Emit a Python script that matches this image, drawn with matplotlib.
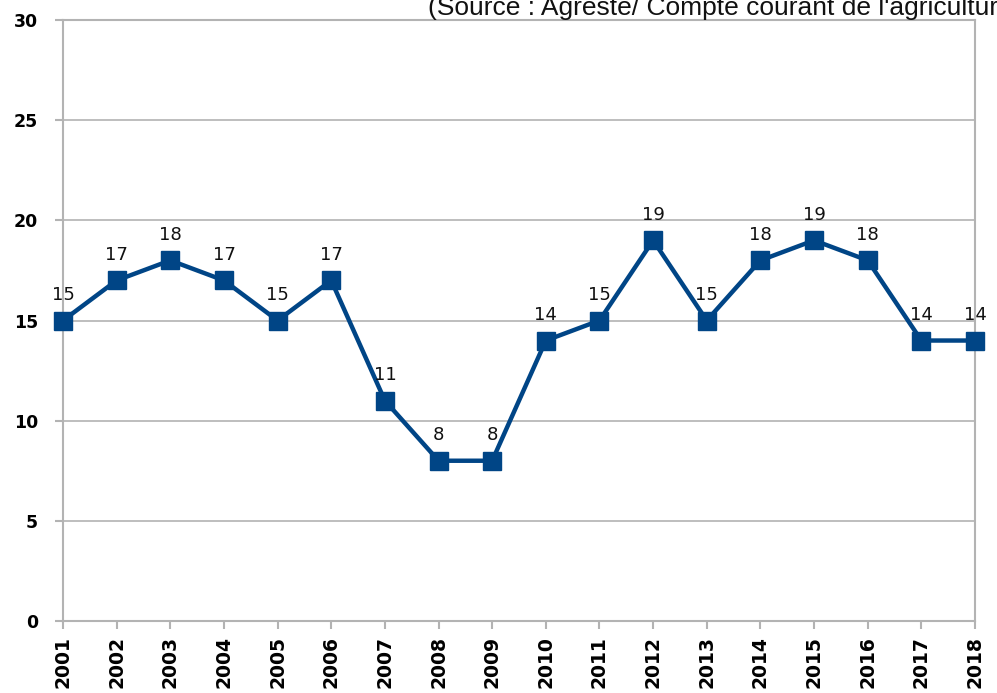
import matplotlib
matplotlib.use("Agg")
import matplotlib.pyplot as plt

years = [str(y) for y in range(2001, 2019)]
values = [15, 17, 18, 17, 15, 17, 11, 8, 8, 14, 15, 19, 15, 18, 19, 18, 14, 14]
yticks = [0, 5, 10, 15, 20, 25, 30]
source = "(Source : Agreste/ Compte courant de l'agriculture)"

plt.rcParams['font.family'] = ['DejaVu Sans']

fig = plt.figure(figsize=(9.97, 6.93), dpi=100)
ax = fig.add_axes([63/997, 1 - 621/693, (975 - 63)/997, (621 - 20)/693])

x = list(range(len(years)))
ax.plot(x, values, color='#004586', lw=3.2, marker='s', markersize=13.5, zorder=3,
        clip_on=False)
for xi, v in zip(x, values):
    ax.annotate(str(v), (xi, v), xytext=(0, 15), textcoords='offset points',
                ha='center', va='baseline', fontsize=13, color='#111111')

ax.set_xlim(0, len(years) - 1)
ax.set_ylim(0, 30)
ax.set_yticks(yticks)
ax.set_xticks(x)
ax.set_xticklabels(years, rotation=90, fontweight='bold', fontsize=13.5)
ax.set_yticklabels([str(t) for t in yticks], fontweight='bold', fontsize=12.5)
ax.grid(axis='y', color='#b3b3b3', lw=1.2)
ax.set_axisbelow(True)
for s in ax.spines.values():
    s.set_color('#b3b3b3')
    s.set_linewidth(1.5)
ax.tick_params(axis='both', color='#b3b3b3', length=6, width=1.5, direction='out')
ax.tick_params(axis='y', pad=12)
ax.tick_params(axis='x', pad=5)

fig.text(428/997, 1 - 15/693, source, fontsize=19, va='baseline', ha='left',
         color='#111111', family='Liberation Sans')

fig.savefig('out.png', dpi=100)
